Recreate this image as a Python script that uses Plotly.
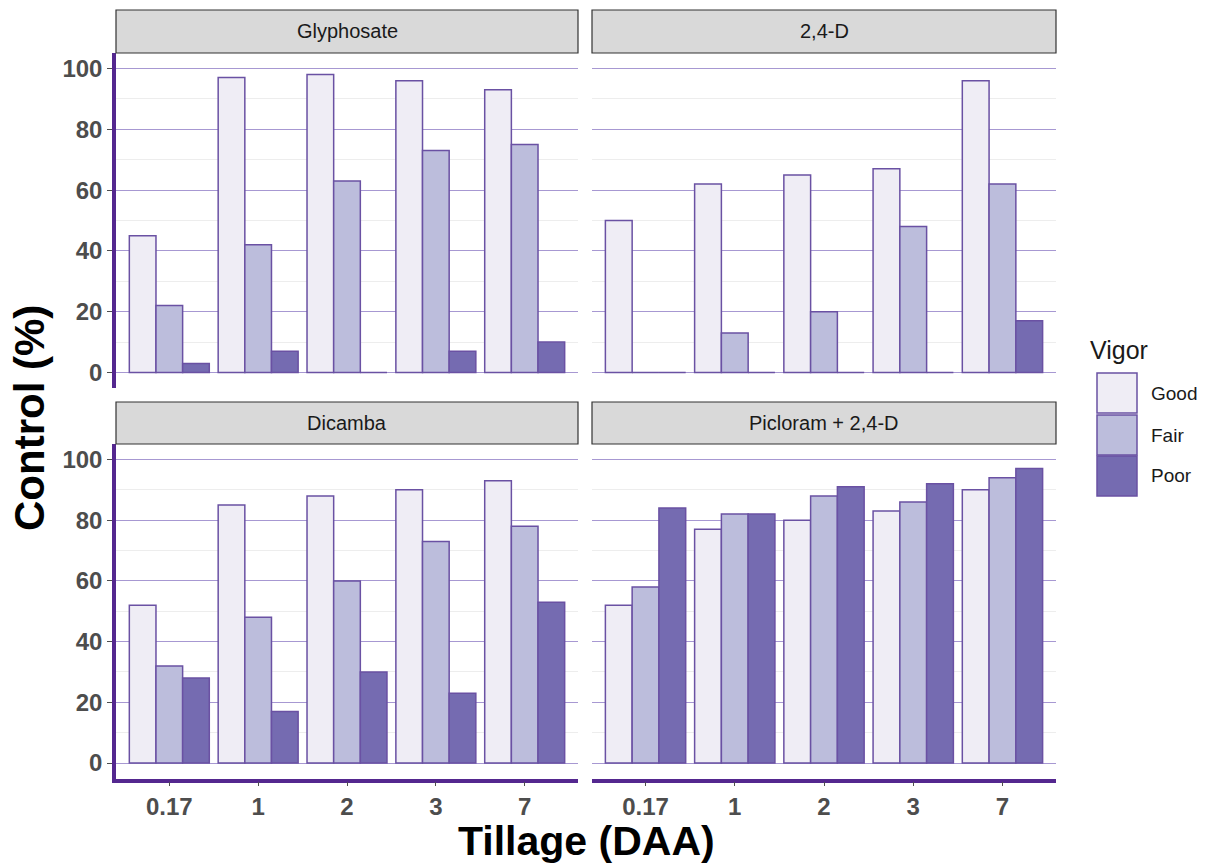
import plotly.graph_objects as go

# ---------------- data ----------------
tillage = ["0.17", "1", "2", "3", "7"]
vigor = ["Good", "Fair", "Poor"]
herbicides = ["Glyphosate", "2,4-D", "Dicamba", "Picloram + 2,4-D"]

glyphosate_good = [45, 97, 98, 96, 93]
glyphosate_fair = [22, 42, 63, 73, 75]
glyphosate_poor = [3, 7, 0, 7, 10]

d24_good = [50, 62, 65, 67, 96]
d24_fair = [0, 13, 20, 48, 62]
d24_poor = [0, 0, 0, 0, 17]

dicamba_good = [52, 85, 88, 90, 93]
dicamba_fair = [32, 48, 60, 73, 78]
dicamba_poor = [28, 17, 30, 23, 53]

picloram_good = [52, 77, 80, 83, 90]
picloram_fair = [58, 82, 88, 86, 94]
picloram_poor = [84, 82, 91, 92, 97]

y_ticks = [0, 20, 40, 60, 80, 100]

panel_values = [
    [glyphosate_good, glyphosate_fair, glyphosate_poor],
    [d24_good, d24_fair, d24_poor],
    [dicamba_good, dicamba_fair, dicamba_poor],
    [picloram_good, picloram_fair, picloram_poor],
]

# ---------------- style ----------------
W, H = 1209, 865
fills = {"Good": "#efedf5", "Fair": "#bcbddc", "Poor": "#756bb1"}
outline = "#6a51a3"
axis_purple = "#54278f"
grid_major = "#a798d2"
grid_minor = "#ededed"
font_family = "Liberation Sans, Arial, sans-serif"


def px(x):
    return x / W


def py(y):
    return 1 - y / H


# panel boxes in pixels: x0, x1, ytop, ybottom
panels = [
    (116, 578, 53, 388),
    (592, 1056, 53, 388),
    (116, 578, 444, 778.5),
    (592, 1056, 444, 778.5),
]
strips = [
    (116, 578, 10, 53),
    (592, 1056, 10, 53),
    (116, 578, 402, 444),
    (592, 1056, 402, 444),
]

fig = go.Figure()

for i, vals in enumerate(panel_values):
    xa = "x" if i == 0 else f"x{i+1}"
    ya = "y" if i == 0 else f"y{i+1}"
    for v, series in zip(vigor, vals):
        fig.add_trace(go.Bar(
            x=tillage, y=series, name=v, xaxis=xa, yaxis=ya,
            marker=dict(color=fills[v], line=dict(color=outline, width=1.5)),
            showlegend=False, offsetgroup=v,
        ))

layout = dict(
    width=W, height=H, autosize=False,
    margin=dict(l=0, r=0, t=0, b=0),
    paper_bgcolor="white", plot_bgcolor="white",
    barmode="group", bargap=0.1, bargroupgap=0.0,
    showlegend=False,
    font=dict(family=font_family),
)

tick_font = dict(size=24, color="#4d4d4d", family=font_family, weight="bold")

for i, (x0, x1, yt, yb) in enumerate(panels):
    xkey = "xaxis" if i == 0 else f"xaxis{i+1}"
    ykey = "yaxis" if i == 0 else f"yaxis{i+1}"
    yname = "y" if i == 0 else f"y{i+1}"
    xname = "x" if i == 0 else f"x{i+1}"
    bottom_row = i >= 2
    left_col = i % 2 == 0
    layout[xkey] = dict(
        domain=[px(x0), px(x1)], anchor=yname,
        type="category", range=[-0.6, 4.6],
        showgrid=False, zeroline=False,
        showline=bottom_row, linecolor=axis_purple, linewidth=3.5,
        ticks="outside" if bottom_row else "", ticklen=4, tickwidth=1,
        tickcolor="#4d4d4d",
        showticklabels=bottom_row,
        tickfont=tick_font,
    )
    layout[ykey] = dict(
        domain=[py(yb), py(yt)], anchor=xname,
        range=[-5.1, 105.1],
        tickmode="array", tickvals=y_ticks,
        showgrid=True, gridcolor=grid_major, gridwidth=1,
        minor=dict(tickmode="array", tickvals=[10, 30, 50, 70, 90],
                   showgrid=True, gridcolor=grid_minor, gridwidth=1),
        zeroline=False,
        showline=left_col, linecolor=axis_purple, linewidth=3.5,
        ticks="outside" if left_col else "", ticklen=5, tickwidth=1,
        tickcolor="#4d4d4d",
        showticklabels=left_col,
        tickfont=tick_font,
    )

shapes = []
annotations = []
for (x0, x1, yt, yb), name in zip(strips, herbicides):
    shapes.append(dict(type="rect", xref="paper", yref="paper",
                       x0=px(x0), x1=px(x1), y0=py(yb), y1=py(yt),
                       fillcolor="#d9d9d9", line=dict(color="#333333", width=1.2),
                       layer="above"))
    annotations.append(dict(text=name, xref="paper", yref="paper",
                            x=px((x0 + x1) / 2), y=py((yt + yb) / 2),
                            showarrow=False, xanchor="center", yanchor="middle",
                            font=dict(size=20, color="#1a1a1a", family=font_family)))

# axis titles
annotations.append(dict(text="<b>Control (%)</b>", xref="paper", yref="paper",
                        x=px(29), y=py(418), textangle=-90, showarrow=False,
                        xanchor="center", yanchor="middle",
                        font=dict(size=42, color="black", family=font_family)))
annotations.append(dict(text="<b>Tillage (DAA)</b>", xref="paper", yref="paper",
                        x=px(586), y=0, showarrow=False,
                        xanchor="center", yanchor="bottom", borderpad=0,
                        font=dict(size=41, color="black", family=font_family)))

# legend (drawn manually to match the large keys)
annotations.append(dict(text="Vigor", xref="paper", yref="paper",
                        x=px(1088), y=py(350), showarrow=False,
                        xanchor="left", yanchor="middle",
                        font=dict(size=25, color="#1a1a1a", family=font_family)))
key_tops = [373, 415, 456]
for v, kt in zip(vigor, key_tops):
    shapes.append(dict(type="rect", xref="paper", yref="paper",
                       x0=px(1097), x1=px(1137), y0=py(kt + 40), y1=py(kt),
                       fillcolor=fills[v], line=dict(color=outline, width=1.5)))
    annotations.append(dict(text=v, xref="paper", yref="paper",
                            x=px(1149), y=py(kt + 20), showarrow=False,
                            xanchor="left", yanchor="middle",
                            font=dict(size=19, color="#1a1a1a", family=font_family)))

layout["shapes"] = shapes
layout["annotations"] = annotations
fig.update_layout(**layout)

fig.write_html(
    "out.html",
    config={"displayModeBar": False},
    post_script="document.body.style.margin='0';document.body.style.padding='0';",
)
